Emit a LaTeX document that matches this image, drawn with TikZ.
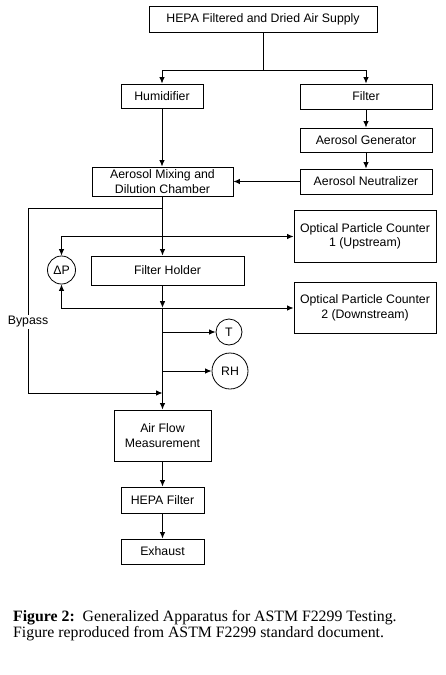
\documentclass[tikz,border=0pt]{standalone}
\usepackage{fontspec}
\setmainfont{Liberation Sans}
\newfontfamily\capfont{Liberation Serif}
\usetikzlibrary{arrows.meta}
\begin{document}
\begin{tikzpicture}[x=1pt,y=-1pt,
  box/.style={draw,line width=0.9pt,inner sep=0pt,align=center,font=\fontsize{12.3}{14.5}\selectfont},
  circ/.style={draw,circle,line width=0.8pt,inner sep=0pt,font=\fontsize{12.3}{14.5}\selectfont},
  ln/.style={line width=0.9pt},
  arr/.style={ln,-{Latex[length=6.5pt,width=5.5pt]}},
  darr/.style={ln,{Latex[length=6.5pt,width=5.5pt]}-{Latex[length=6.5pt,width=5.5pt]}}
]
\useasboundingbox (0,0) rectangle (445,675);
\node[box,minimum width=228pt,minimum height=26pt] (supply) at (263,19) {HEPA Filtered and Dried Air Supply};
\node[box,minimum width=82pt,minimum height=24pt] (hum) at (162,96) {Humidifier};
\node[box,minimum width=132pt,minimum height=25pt] (filt) at (366,96.5) {Filter};
\node[box,minimum width=132pt,minimum height=24pt] (gen) at (366,140) {Aerosol Generator};
\node[box,minimum width=132pt,minimum height=25pt] (neut) at (366,181.5) {Aerosol Neutralizer};
\node[box,minimum width=141pt,minimum height=29pt] (mix) at (162.5,181.5) {Aerosol Mixing and\\Dilution Chamber};
\node[box,minimum width=142pt,minimum height=52pt] (opc1) at (365,236.5) {Optical Particle Counter\\1 (Upstream)};
\node[box,minimum width=153pt,minimum height=29pt] (fh) at (167.5,270.5) {Filter Holder};
\node[box,minimum width=142pt,minimum height=51pt] (opc2) at (365,308) {Optical Particle Counter\\2 (Downstream)};
\node[circ,minimum size=28pt] (dp) at (61.5,270) {ΔP};
\node[circ,minimum size=26pt] (t) at (229,332) {T};
\node[circ,minimum size=36pt] (rh) at (230,371) {RH};
\node[box,minimum width=97pt,minimum height=51pt] (af) at (162.5,435.5) {Air Flow\\Measurement};
\node[box,minimum width=83pt,minimum height=26pt] (hf) at (162.5,500) {HEPA Filter};
\node[box,minimum width=83pt,minimum height=25pt] (ex) at (162.5,551.5) {Exhaust};

\coordinate (split) at (263,70);
\draw[ln] (supply.south) -- (split);
\draw[arr] (split) -| (hum.north);
\draw[arr] (split) -| (filt.north);
\draw[arr] (filt) -- (gen);
\draw[arr] (gen) -- (neut);
\draw[arr] (neut.west) -- (mix.east);
\draw[arr] (hum.south) -- (mix.north -| hum.south);
\coordinate (m1) at (162.5,208);
\draw[arr] (mix.south) -- (mix.south |- fh.north);
\coordinate (bl1) at (28,208);
\coordinate (bl2) at (28,393);
\coordinate (m2) at (162.5,393);
\draw[arr] (m1) -- (bl1) -- (bl2) -- (m2);
\node[fill=white,inner sep=1pt,font=\fontsize{12.3}{14.5}\selectfont] (bypass) at (28,322) {Bypass};
\draw[darr] (dp.north) |- (opc1.west);
\draw[darr] (dp.south) |- (opc2.west);
\coordinate (j2) at (162.5,307.7);
\draw[arr] (mix.south |- fh.south) -- (j2);
\draw[arr] (j2) -- (af.north);
\coordinate (jt) at (162.5,332);
\coordinate (jr) at (162.5,371);
\draw[arr] (jt) -- (t.west);
\draw[arr] (jr) -- (rh.west);
\draw[arr] (af) -- (hf);
\draw[arr] (hf) -- (ex);

\node[anchor=base west,inner sep=0pt,font=\capfont\fontsize{15.8}{17}\selectfont] (cap1) at (13,621) {\textbf{Figure 2:}\ \ Generalized Apparatus for ASTM F2299 Testing.};
\node[anchor=base west,inner sep=0pt,font=\capfont\fontsize{15.8}{17}\selectfont] (cap2) at (13,637.5) {Figure reproduced from ASTM F2299 standard document.};
\end{tikzpicture}
\end{document}
